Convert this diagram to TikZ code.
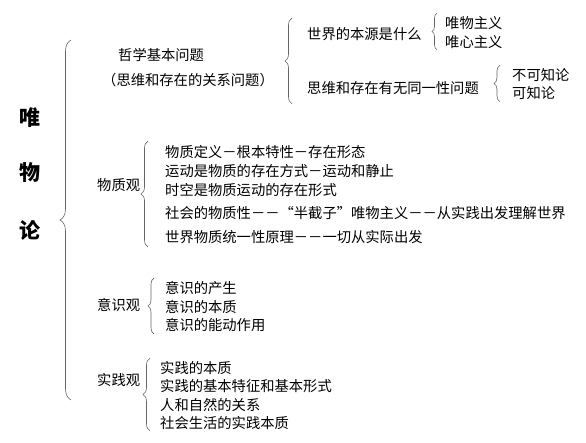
\documentclass[tikz,border=0pt]{standalone}
\usepackage{fontspec}
\newfontfamily\cjk{Noto Sans CJK SC}
\usetikzlibrary{decorations.pathreplacing}

\begin{document}
\begin{tikzpicture}[
    x=1pt, y=-1pt,
    txt/.style={anchor=west, inner sep=0pt, font=\cjk\fontsize{14.3}{16}\selectfont},
    title/.style={inner sep=0pt, font=\cjk\bfseries\fontsize{21}{23}\selectfont},
    brc/.style={decorate, decoration={brace, amplitude=#1}, draw=black!60, semithick},
    brc/.default=7pt
]
    \useasboundingbox (0,0) rectangle (586,443);

    % left title
    \node[title] (t1) at (30,118) {唯};
    \node[title] (t2) at (30,173) {物};
    \node[title] (t3) at (30,230) {论};
    \coordinate (bigtop) at (71,40);
    \coordinate (bigbot) at (71,400);
    \draw[brc=11pt] (bigbot) -- (bigtop);

    % basic question
    \node[txt] (jb) at (118,55) {哲学基本问题};
    \node[txt] (jb2) at (102,80) {（思维和存在的关系问题）};
    \node[txt] (q1) at (307,34) {世界的本源是什么};
    \node[txt] (q2) at (307,88) {思维和存在有无同一性问题};
    \draw[brc] ([xshift=-15pt,yshift=-9pt]q2.south west) -- ([xshift=-15pt,yshift=9pt]q1.north west);
    \node[txt] (a1) at (445,23) {唯物主义};
    \node[txt] (a2) at (445,42) {唯心主义};
    \draw[brc=5pt] ([xshift=-8pt,yshift=-1pt]a2.south west) -- ([xshift=-8pt,yshift=3pt]a1.north west);
    \node[txt] (b1) at (512,75) {不可知论};
    \node[txt] (b2) at (512,93) {可知论};
    \draw[brc=6pt] ([xshift=-12pt,yshift=-2pt]b2.south west) -- ([xshift=-12pt,yshift=3pt]b1.north west);

    % matter
    \node[txt] (wz) at (97,185) {物质观};
    \node[txt] (wz1) at (165,152) {物质定义－根本特性－存在形态};
    \node[txt] (wz2) at (165,171) {运动是物质的存在方式－运动和静止};
    \node[txt] (wz3) at (165,190) {时空是物质运动的存在形式};
    \node[txt] (wz4) at (165,213) {社会的物质性－－“半截子”唯物主义－－从实践出发理解世界};
    \node[txt] (wz5) at (165,237) {世界物质统一性原理－－一切从实际出发};
    \draw[brc] ([xshift=-17pt,yshift=-3pt]wz5.south west) -- ([xshift=-17pt,yshift=4pt]wz1.north west);

    % consciousness
    \node[txt] (ys) at (97,305) {意识观};
    \node[txt] (ys1) at (165,288) {意识的产生};
    \node[txt] (ys2) at (165,307) {意识的本质};
    \node[txt] (ys3) at (165,325) {意识的能动作用};
    \draw[brc=6pt] ([xshift=-11pt,yshift=-2pt]ys3.south west) -- ([xshift=-11pt,yshift=3pt]ys1.north west);

    % practice
    \node[txt] (sj) at (97,380) {实践观};
    \node[txt] (sj1) at (160,368) {实践的本质};
    \node[txt] (sj2) at (160,386) {实践的基本特征和基本形式};
    \node[txt] (sj3) at (160,405) {人和自然的关系};
    \node[txt] (sj4) at (160,423) {社会生活的实践本质};
    \draw[brc] ([xshift=-10pt,yshift=-1pt]sj4.south west) -- ([xshift=-10pt,yshift=3pt]sj1.north west);
\end{tikzpicture}
\end{document}
